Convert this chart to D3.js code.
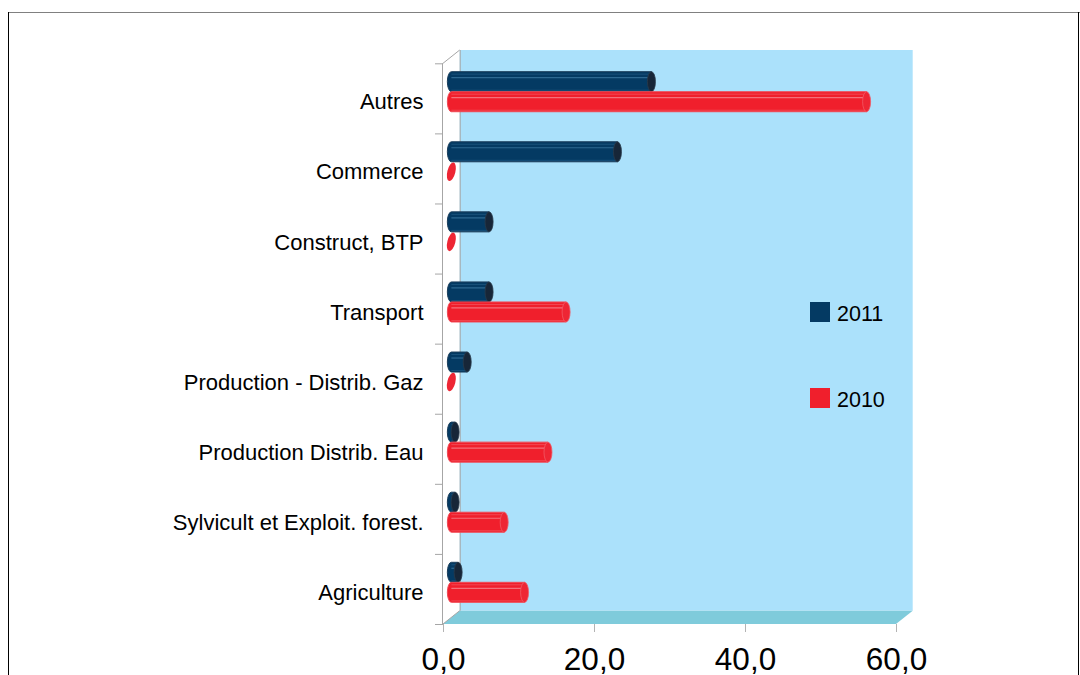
<!DOCTYPE html>
<html>
<head>
<meta charset="utf-8">
<script src="https://cdn.jsdelivr.net/npm/d3@7"></script>
<style>
  html, body { margin: 0; padding: 0; background: #fff; }
  svg { display: block; font-family: "Liberation Sans", Arial, sans-serif; }
</style>
</head>
<body>
<svg id="chart" width="1080" height="675"></svg>
<script>
// Sectors, top to bottom
const categories = [
  "Autres",
  "Commerce",
  "Construct, BTP",
  "Transport",
  "Production - Distrib. Gaz",
  "Production Distrib. Eau",
  "Sylvicult et Exploit. forest.",
  "Agriculture"
];
const series = ["2011", "2010"];
const values2011 = [26.5, 22.0, 5.0, 5.0, 2.1, 0.5, 0.5, 0.9];
const values2010 = [55.0, 0.0, 0.0, 15.2, 0.0, 12.8, 7.0, 9.7];
const xTicks = [0, 20, 40, 60];

const colors = { "2011": "#043a63", "2010": "#f01f2c" };
const capColors = { "2011": "#172638", "2010": "#ee2634" };
const highlight = { "2011": "#2d6891", "2010": "#f3707a" };

const svg = d3.select("#chart");

// Frame
svg.append("line").attr("x1", 8).attr("x2", 1080).attr("y1", 12.5).attr("y2", 12.5)
  .attr("stroke", "#808080").attr("stroke-width", 1);
svg.append("line").attr("x1", 8.5).attr("x2", 8.5).attr("y1", 12).attr("y2", 675)
  .attr("stroke", "#000").attr("stroke-width", 1);
svg.append("line").attr("x1", 1078.5).attr("x2", 1078.5).attr("y1", 12).attr("y2", 675)
  .attr("stroke", "#000").attr("stroke-width", 1);

// Front plane scales
const x = d3.scaleLinear().domain([0, 60]).range([443, 896]);
const y = d3.scaleBand().domain(categories).range([63.3, 624]);
const y1 = d3.scaleBand().domain(series).range([0, y.bandwidth()])
  .paddingInner(0).paddingOuter(0.75);

// Depth of the 3D box
const dx = 16.7, dy = -13.3;
const x0 = x(0), x60 = x(60), yTop = y.range()[0], yBot = y.range()[1];

// Back wall
svg.append("rect")
  .attr("x", x0 + dx).attr("y", yTop + dy)
  .attr("width", x60 - x0).attr("height", yBot - yTop)
  .attr("fill", "#abe1fb");

// Floor
svg.append("polygon")
  .attr("points", [[x0, yBot], [x60, yBot], [x60 + dx, yBot + dy], [x0 + dx, yBot + dy]].map(p => p.join(",")).join(" "))
  .attr("fill", "#7fcbdb");

// Side wall edges
const edge = "#a6a6a6";
svg.append("line").attr("x1", x0 + dx + 0.5).attr("x2", x0 + dx + 0.5)
  .attr("y1", yTop + dy).attr("y2", yBot + dy).attr("stroke", edge);
svg.append("line").attr("x1", x0).attr("x2", x0 + dx)
  .attr("y1", yTop).attr("y2", yTop + dy).attr("stroke", edge);
svg.append("line").attr("x1", x0).attr("x2", x0 + dx)
  .attr("y1", yBot).attr("y2", yBot + dy).attr("stroke", edge);
svg.append("line").attr("x1", x0 - 0.5).attr("x2", x0 - 0.5)
  .attr("y1", yTop).attr("y2", yBot + 1).attr("stroke", edge);

// Category ticks on the front axis
const bounds = categories.map(c => y(c)).concat([yBot]);
svg.append("g").selectAll("line").data(bounds).join("line")
  .attr("x1", x0 - 8).attr("x2", x0).attr("y1", d => d + 0.5).attr("y2", d => d + 0.5)
  .attr("stroke", edge);

// Category labels
svg.append("g").selectAll("text").data(categories).join("text")
  .attr("x", 423.5).attr("y", d => y(d) + y.bandwidth() / 2 + 11)
  .attr("text-anchor", "end").attr("font-size", 22).attr("fill", "#000")
  .text(d => d);

// Value axis
const xAxis = d3.axisBottom(x).tickValues(xTicks).tickSize(8).tickPadding(16)
  .tickFormat(d => d3.format(".1f")(d).replace(".", ","));
const gx = svg.append("g").attr("transform", `translate(0,${yBot})`).call(xAxis);
gx.select(".domain").remove();
gx.selectAll(".tick line").attr("stroke", "#b3b3b3");
gx.selectAll(".tick text").attr("font-size", 31.5).attr("fill", "#000")
  .attr("font-family", "\"Liberation Sans\", Arial, sans-serif");

// Cylinders sit halfway into the depth
const bx = dx / 2, by = dy / 2;
const rx = 4;
const rows = [];
categories.forEach((c, i) => {
  rows.push({ cat: c, s: "2011", v: values2011[i] });
  rows.push({ cat: c, s: "2010", v: values2010[i] });
});

const bars = svg.append("g").selectAll("g").data(rows).join("g")
  .attr("transform", d => `translate(${bx},${y(d.cat) + y1(d.s) + by})`);

const h = y1.bandwidth();

bars.each(function (d) {
  const g = d3.select(this);
  const xs = x(0), xe = x(d.v);
  if (d.v <= 0) {
    g.append("ellipse")
      .attr("cx", xs).attr("cy", h / 2).attr("rx", rx).attr("ry", h / 2 - 0.5)
      .attr("transform", `rotate(14,${xs},${h / 2})`)
      .attr("fill", capColors[d.s]);
    return;
  }
  // Body with rounded left cap
  g.append("path")
    .attr("d", `M${xe},0 L${xs},0 A${rx},${h / 2} 0 0 0 ${xs},${h} L${xe},${h} Z`)
    .attr("fill", colors[d.s])
    .attr("stroke", d.s === "2011" ? "#1d3f5c" : "#f04a55").attr("stroke-width", 1);
  // Shine lines along the body
  g.append("line").attr("x1", xs).attr("x2", xe).attr("y1", 2.5).attr("y2", 2.5)
    .attr("stroke", highlight[d.s]).attr("stroke-opacity", 0.5);
  g.append("line").attr("x1", xs).attr("x2", xe).attr("y1", h * 0.3).attr("y2", h * 0.3)
    .attr("stroke", highlight[d.s]).attr("stroke-width", 1.2);
  g.append("line").attr("x1", xs).attr("x2", xe).attr("y1", h - 1.5).attr("y2", h - 1.5)
    .attr("stroke", highlight[d.s]).attr("stroke-opacity", 0.45);
  // Right end cap
  g.append("ellipse")
    .attr("cx", xe).attr("cy", h / 2).attr("rx", rx).attr("ry", h / 2)
    .attr("fill", capColors[d.s])
    .attr("stroke", d.s === "2011" ? "#2a3a4a" : "#f05a66").attr("stroke-width", 0.8);
});

// Legend
const legend = svg.append("g").selectAll("g").data(series).join("g")
  .attr("transform", (d, i) => `translate(810,${302 + i * 86})`);
legend.append("rect").attr("width", 20).attr("height", 20).attr("fill", d => colors[d]);
legend.append("text").attr("x", 27).attr("y", 19).attr("font-size", 21.5).attr("fill", "#000")
  .text(d => d);
</script>
</body>
</html>
